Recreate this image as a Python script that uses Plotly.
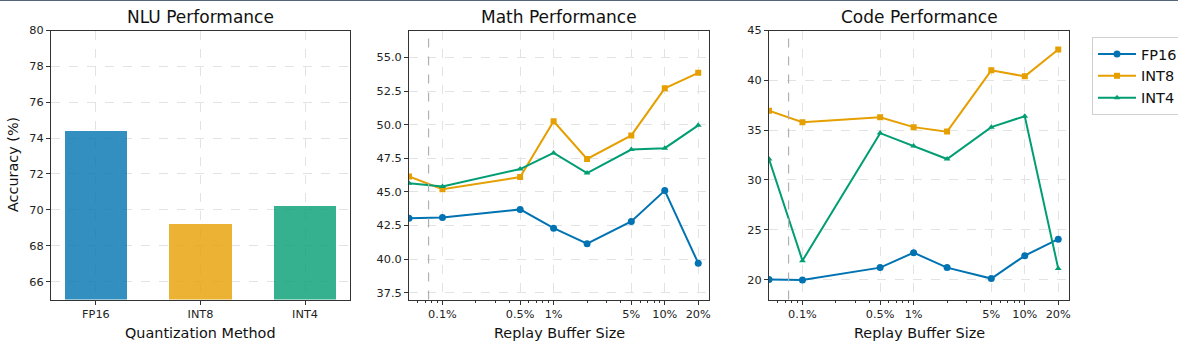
import plotly.graph_objects as go
from plotly.subplots import make_subplots

methods = ["FP16", "INT8", "INT4"]
nlu_acc = [74.45, 69.25, 70.25]

buffer_sizes = [0.05, 0.1, 0.5, 1, 2, 5, 10, 20]
tick_vals = [0.1, 0.5, 1, 5, 10, 20]
tick_text = ["0.1%", "0.5%", "1%", "5%", "10%", "20%"]

math_fp16 = [43.05, 43.1, 43.7, 42.3, 41.15, 42.8, 45.1, 39.7]
math_int8 = [46.15, 45.2, 46.1, 50.25, 47.45, 49.2, 52.7, 53.85]
math_int4 = [45.65, 45.4, 46.7, 47.9, 46.4, 48.15, 48.25, 49.95]

code_fp16 = [20.0, 19.95, 21.2, 22.7, 21.2, 20.1, 22.4, 24.05]
code_int8 = [36.95, 35.8, 36.3, 35.3, 34.85, 41.0, 40.4, 43.1]
code_int4 = [32.1, 21.9, 34.7, 33.4, 32.1, 35.3, 36.4, 21.1]

marker_line = 0.075

colors = ["#0173b2", "#e69f00", "#029e73"]
bar_colors = ["rgba(1,115,178,0.8)", "rgba(230,159,0,0.8)", "rgba(2,158,115,0.8)"]
symbols = ["circle", "square", "triangle-up"]

minor_vals = [0.06, 0.07, 0.08, 0.09, 0.2, 0.3, 0.4, 0.6, 0.7, 0.8, 0.9,
              2, 3, 4, 6, 7, 8, 9]

W, H = 1178, 341
fig = make_subplots(rows=1, cols=3)

fig.add_trace(go.Bar(x=[0, 1, 2], y=nlu_acc, width=0.6,
                     marker=dict(color=bar_colors, line=dict(width=0)),
                     showlegend=False), row=1, col=1)

for col, series in [(2, [math_fp16, math_int8, math_int4]),
                    (3, [code_fp16, code_int8, code_int4])]:
    for i, ys in enumerate(series):
        fig.add_trace(go.Scatter(
            x=buffer_sizes, y=ys, mode="lines+markers", name=methods[i],
            line=dict(color=colors[i], width=2),
            marker=dict(symbol=symbols[i], size=7 if i == 0 else 6, color=colors[i]),
            showlegend=(col == 3),
        ), row=1, col=col)

# pixel layout
doms = [(51, 350), (409, 709), (769, 1069)]
ydom = [1 - 299.5 / H, 1 - 30.5 / H]
axis_common = dict(showline=True, mirror=True, linecolor="#333", linewidth=1,
                   ticks="outside", ticklen=4, tickcolor="#333", automargin=False,
                   showgrid=True, gridcolor="#e3e3e3", griddash="dash", gridwidth=1,
                   zeroline=False, tickfont=dict(size=11.3, color="#222"))

for k, (a, b) in enumerate(doms):
    xa = "xaxis" if k == 0 else f"xaxis{k+1}"
    ya = "yaxis" if k == 0 else f"yaxis{k+1}"
    fig.layout[xa].update(domain=[a / W, b / W], **axis_common)
    fig.layout[ya].update(domain=ydom, **axis_common)

fig.update_xaxes(range=[-0.43, 2.43], tickvals=[0, 1, 2], ticktext=methods, row=1, col=1)
fig.update_yaxes(range=[65, 80], tick0=66, dtick=2, row=1, col=1)

for col in (2, 3):
    fig.update_xaxes(type="log", range=[-1.30103, 1.39794], tickvals=tick_vals,
                     ticktext=tick_text,
                     minor=dict(tickvals=minor_vals, ticks="outside", ticklen=2,
                                tickcolor="#333", showgrid=False),
                     row=1, col=col)
fig.update_yaxes(range=[37, 57], tick0=37.5, dtick=2.5, tickformat=".1f", row=1, col=2)
fig.update_yaxes(range=[18, 45], tick0=20, dtick=5, row=1, col=3)

titles = ["NLU Performance", "Math Performance", "Code Performance"]
xtitles = ["Quantization Method", "Replay Buffer Size", "Replay Buffer Size"]
for k, (a, b) in enumerate(doms):
    fig.add_annotation(x=(a + b) / 2 / W, y=1 - 17 / H, xref="paper", yref="paper",
                       text=titles[k], showarrow=False, font=dict(size=17, color="#111"),
                       xanchor="center", yanchor="middle")
    fig.add_annotation(x=(a + b) / 2 / W, y=1 - 332.5 / H, xref="paper", yref="paper",
                       text=xtitles[k], showarrow=False, font=dict(size=14.4, color="#111"),
                       xanchor="center", yanchor="middle")
fig.add_annotation(x=13 / W, y=1 - 165 / H, xref="paper", yref="paper",
                   text="Accuracy (%)", textangle=-90, showarrow=False,
                   font=dict(size=14.4, color="#111"), xanchor="center", yanchor="middle")

for xr in ("x2", "x3"):
    fig.add_shape(type="line", xref=xr, yref="paper", x0=marker_line, x1=marker_line,
                  y0=ydom[0], y1=ydom[1],
                  line=dict(color="#b0b0b0", width=1.2, dash="dash"))

fig.add_shape(type="line", xref="paper", yref="paper", x0=0, x1=1, y0=1, y1=1,
              line=dict(color="#56667a", width=2))

fig.update_layout(
    width=W, height=H, margin=dict(l=0, r=0, t=0, b=0, autoexpand=False),
    plot_bgcolor="white", paper_bgcolor="white",
    font=dict(family="DejaVu Sans", color="#222"),
    bargap=0,
    legend=dict(x=1092 / W, y=1 - 37 / H, xanchor="left", yanchor="top",
                bordercolor="#d0d0d0", borderwidth=1, bgcolor="white",
                font=dict(size=14.5, color="#111"), tracegroupgap=0, itemwidth=38),
)

fig.write_html("out.html", config={"displayModeBar": False},
               post_script="document.body.style.margin='0';")
